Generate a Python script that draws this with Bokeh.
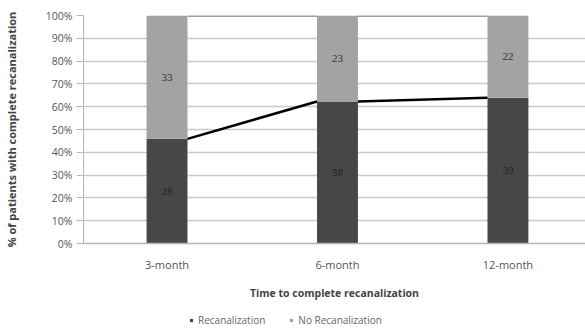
from bokeh.plotting import figure
from bokeh.layouts import column
from bokeh.models import (Range1d, FixedTicker, NumeralTickFormatter, Legend,
                          LegendItem, ColumnDataSource, LabelSet)
from bokeh.embed import file_html
from bokeh.resources import INLINE

# Follow-up time points and patient counts
periods = ["3-month", "6-month", "12-month"]
recanalized = [28, 38, 39]
not_recanalized = [33, 23, 22]
y_ticks = [0.0, 0.1, 0.2, 0.3, 0.4, 0.5, 0.6, 0.7, 0.8, 0.9, 1.0]
series_names = ["Recanalization", "No Recanalization"]

DARK = "#474747"
LIGHT = "#a3a3a3"
FONT = "Open Sans"
BAR_W = 0.24

xs = list(range(len(periods)))
totals = [a + b for a, b in zip(recanalized, not_recanalized)]
share_rec = [a / t for a, t in zip(recanalized, totals)]
share_no = [b / t for b, t in zip(not_recanalized, totals)]

p = figure(width=585, height=312, output_backend="svg", toolbar_location=None,
           x_range=Range1d(-0.49, 2.455), y_range=Range1d(0, 1),
           min_border_left=80, min_border_right=0, min_border_top=15,
           min_border_bottom=69)
p.outline_line_color = None
p.background_fill_color = "white"
p.border_fill_color = "white"

src = ColumnDataSource(dict(
    x=xs, rec=share_rec, no=share_no, top=[1.0] * len(xs),
    rec_mid=[r / 2 for r in share_rec],
    no_mid=[r + n / 2 for r, n in zip(share_rec, share_no)],
    rec_lab=[str(v) for v in recanalized],
    no_lab=[str(v) for v in not_recanalized],
))

p.vbar(x="x", bottom=0, top="rec", width=BAR_W, source=src,
       fill_color=DARK, line_color=None)
p.vbar(x="x", bottom="rec", top="top", width=BAR_W, source=src,
       fill_color=LIGHT, line_color=None)

# Series lines joining the segment tops of neighbouring bars
x0 = [x + BAR_W / 2 for x in xs[:-1]]
x1 = [x - BAR_W / 2 for x in xs[1:]]
p.segment(x0=x0, x1=x1, y0=share_rec[:-1], y1=share_rec[1:],
          line_color="black", line_width=2.5)
p.segment(x0=x0, x1=x1, y0=[1.0] * len(x0), y1=[1.0] * len(x1),
          line_color="#9e9e9e", line_width=3)

for col_y, col_t, colr in (("rec_mid", "rec_lab", "#222222"),
                           ("no_mid", "no_lab", "#333333")):
    p.add_layout(LabelSet(x="x", y=col_y, text=col_t, source=src,
                          text_align="center", text_baseline="middle",
                          text_font=FONT, text_font_size="11px",
                          text_color=colr))

# Axes
p.yaxis.ticker = FixedTicker(ticks=y_ticks)
p.yaxis.formatter = NumeralTickFormatter(format="0%")
p.yaxis.axis_line_color = "#b5b5b5"
p.yaxis.major_tick_line_color = "#b5b5b5"
p.yaxis.major_tick_out = 7
p.yaxis.major_tick_in = 0
p.yaxis.minor_tick_line_color = None
p.yaxis.major_label_text_font = FONT
p.yaxis.major_label_text_font_size = "10.5px"
p.yaxis.major_label_text_color = "#555555"
p.yaxis.major_label_standoff = 4
p.yaxis.axis_label = "% of patients with complete recanalization"
p.yaxis.axis_label_text_font = FONT
p.yaxis.axis_label_text_font_size = "11px"
p.yaxis.axis_label_text_font_style = "bold"
p.yaxis.axis_label_text_color = "#444444"
p.yaxis.axis_label_standoff = 24

p.xaxis.ticker = FixedTicker(ticks=xs)
p.xaxis.major_label_overrides = {i: s for i, s in enumerate(periods)}
p.xaxis.axis_line_color = "#b5b5b5"
p.xaxis.axis_line_width = 1.5
p.xaxis.major_tick_line_color = None
p.xaxis.major_tick_out = 0
p.xaxis.major_tick_in = 0
p.xaxis.minor_tick_line_color = None
p.xaxis.major_label_text_font = FONT
p.xaxis.major_label_text_font_size = "11px"
p.xaxis.major_label_text_color = "#555555"
p.xaxis.major_label_standoff = 13
p.xaxis.axis_label = "Time to complete recanalization"
p.xaxis.axis_label_text_font = FONT
p.xaxis.axis_label_text_font_size = "10.5px"
p.xaxis.axis_label_text_font_style = "bold"
p.xaxis.axis_label_text_color = "#444444"
p.xaxis.axis_label_standoff = 11

p.xgrid.grid_line_color = None
p.ygrid.ticker = FixedTicker(ticks=y_ticks)
p.ygrid.grid_line_color = "#c9c9c9"
p.ygrid.grid_line_width = 1.5

# Legend strip underneath the chart; the swatch renderers sit outside
# the strip's visible range so only their legend glyphs are drawn
leg = figure(width=585, height=16, output_backend="svg", toolbar_location=None,
             x_range=Range1d(0, 1), y_range=Range1d(0, 1),
             min_border=0, outline_line_color=None)
leg.axis.visible = False
leg.grid.visible = False
sw_rec = leg.scatter(x=[-5], y=[-5], marker="square", size=10,
                     fill_color=DARK, line_color=None)
sw_no = leg.scatter(x=[-5], y=[-5], marker="square", size=10,
                    fill_color=LIGHT, line_color=None)
legend = Legend(items=[LegendItem(label=series_names[0], renderers=[sw_rec]),
                       LegendItem(label=series_names[1], renderers=[sw_no])],
                orientation="horizontal", location=(104, 1),
                label_text_font=FONT, label_text_font_size="10px",
                label_text_color="#666666", glyph_width=8, glyph_height=8,
                label_standoff=3, spacing=22, padding=0, margin=0,
                label_height=12, border_line_color=None,
                background_fill_alpha=0)
leg.add_layout(legend, "center")

layout = column(p, leg, spacing=0)
open("out.html", "w").write(file_html(layout, INLINE))
